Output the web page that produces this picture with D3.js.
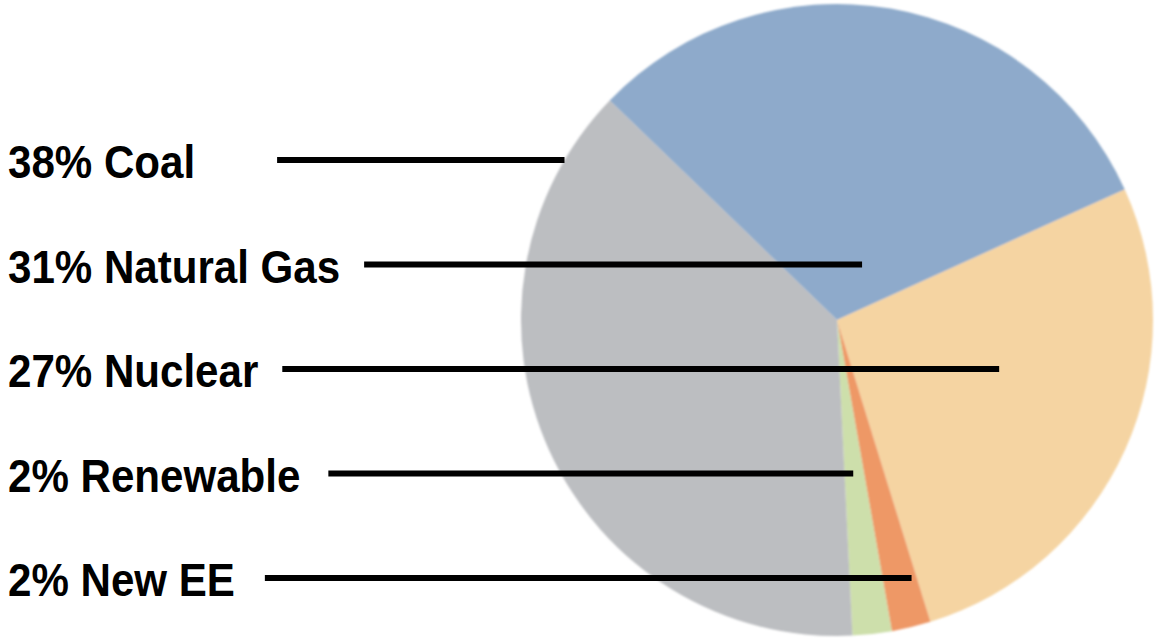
<!DOCTYPE html>
<meta charset="utf-8">

<style>
body{
	background-color: #fff;
	margin: 0px;
}

svg{
	display: block;
}

.label text{
	font-family: "Liberation Sans", Arial, sans-serif;
	font-weight: bold;
	font-size: 46px;
	fill: #000;
}

</style>

<body></body>

<script src="https://cdn.jsdelivr.net/npm/d3@7"></script>

<script>

// slices, clockwise from the upper-left edge of the blue wedge
var categories = ['Natural Gas', 'Nuclear', 'New EE', 'Renewable', 'Coal'],
		shares     = [31, 27, 2, 2, 38],
		colors     = ['#8eaacb', '#f5d4a2', '#ee9866', '#cddfab', '#bcbec1']

// label rows, top to bottom
var labelOrder = ['Coal', 'Natural Gas', 'Nuclear', 'Renewable', 'New EE']

var width  = 1157,
		height = 638,
		cx = 837, cy = 320, r = 316,
		startAngle = -46*Math.PI/180

// where along each slice's angle the leader line stops, and gap after text
var leaderFrac = {'Coal': 0.5, 'Natural Gas': 0.63, 'Nuclear': 0.424, 'Renewable': 0.55, 'New EE': 0.15},
		leaderGap  = {'Coal': 82, 'Natural Gas': 24, 'Nuclear': 24, 'Renewable': 28, 'New EE': 30}

var data = categories.map(function(c, i){ return {name: c, share: shares[i], color: colors[i]} })

var svg = d3.select('body')
	.append('svg')
		.attr('width', width)
		.attr('height', height)

svg.append('defs').append('filter')
		.attr('id', 'soft')
	.append('feGaussianBlur')
		.attr('stdDeviation', 1.2)

var pie = d3.pie()
		.sort(null)
		.value(function(d){ return d.share })
		.startAngle(startAngle)
		.endAngle(startAngle + 2*Math.PI)

var arc = d3.arc().innerRadius(0).outerRadius(r)

var arcs = pie(data)

svg.append('g')
		.attr('transform', 'translate(' + cx + ',' + cy + ')')
		.attr('filter', 'url(#soft)')
	.selectAll('path')
	.data(arcs)
	.enter().append('path')
		.attr('d', arc)
		.attr('fill', function(d){ return d.data.color })

var rowY = d3.scalePoint()
		.domain(labelOrder)
		.range([162, 580])

var byName = {}
arcs.forEach(function(d){ byName[d.data.name] = d })

function leaderEnd(name, y){
	var d = byName[name],
			a = d.startAngle + leaderFrac[name]*(d.endAngle - d.startAngle),
			dy = y - cy,
			t = dy/(-Math.cos(a))
	if (t < 0 || t > r){
		var side = Math.sin(a) < 0 ? -1 : 1
		return cx + side*Math.sqrt(r*r - dy*dy)
	}
	return cx + t*Math.sin(a)
}

var labels = svg.selectAll('.label')
	.data(labelOrder)
	.enter().append('g')
		.attr('class', 'label')

labels.each(function(name){
	var g = d3.select(this),
			d = byName[name],
			y = rowY(name)

	var text = g.append('text')
			.attr('transform', 'translate(8,' + (y + 16) + ') scale(0.915,1)')
			.text(d.data.share + '% ' + name)

	var textEnd = 8 + text.node().getComputedTextLength()*0.915

	g.append('line')
			.attr('x1', textEnd + leaderGap[name])
			.attr('x2', leaderEnd(name, y - 2))
			.attr('y1', y - 2)
			.attr('y2', y - 2)
			.attr('stroke', '#000')
			.attr('stroke-width', 6)
})

</script>
